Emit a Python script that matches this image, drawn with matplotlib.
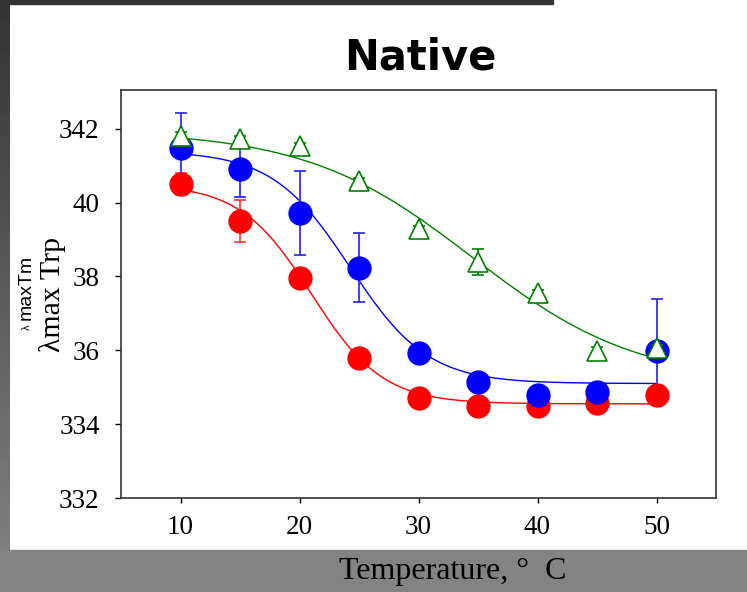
import numpy as np
import matplotlib
matplotlib.use('Agg')
import matplotlib.pyplot as plt
from matplotlib.patches import Rectangle

# temperatures (deg C)
temp = [10, 15, 20, 25, 30, 35, 40, 45, 50]

# red series (filled circles)
red_y = [340.5, 339.5, 337.95, 335.78, 334.72, 334.49, 334.5, 334.57, 334.78]
red_err = [0.3, 0.57, 0.1, 0.1, 0.1, 0.1, 0.1, 0.1, 0.1]

# blue series (filled circles)
blue_y = [341.49, 340.92, 339.72, 338.24, 335.92, 335.14, 334.78, 334.87, 335.98]
blue_err = [0.94, 0.78, 1.13, 0.93, 0.1, 0.1, 0.1, 0.1, 1.4]

# green series (open triangles)
green_y = [341.8, 341.71, 341.52, 340.58, 339.28, 338.4, 337.54, 335.99, 336.05]
green_err = [0.1, 0.1, 0.1, 0.1, 0.1, 0.35, 0.1, 0.1, 0.1]

# Boltzmann fit parameters: top, bottom, Tm, slope
red_fit = [340.5, 334.55, 21.0, 3.0]
blue_fit = [341.4, 335.1, 24.25, 3.27]
green_fit = [341.95, 335.1, 34.5, 7.0]

yticks = [332, 334, 336, 338, 340, 342]
ytick_labels = ['332', '334', '36', '38', '40', '342']
xticks = [10, 20, 30, 40, 50]


def boltzmann(t, p):
    top, bottom, tm, dx = p
    return bottom + (top - bottom) / (1 + np.exp((t - tm) / dx))


def draw():
    serif = ['Liberation Serif', 'DejaVu Serif']
    fig = plt.figure(figsize=(7.47, 5.92), dpi=100)
    fig.patch.set_facecolor('white')

    # slide background pieces
    grad_ax = fig.add_axes([0, 0, 10 / 747, 1])
    grad = np.linspace(0.2, 0.52, 256).reshape(-1, 1)
    grad_ax.imshow(grad, aspect='auto', cmap='gray', vmin=0, vmax=1)
    grad_ax.axis('off')
    fig.patches.append(Rectangle((0, 1 - 4 / 592), 553 / 747, 4 / 592,
                                 transform=fig.transFigure, color='#333333', zorder=0))
    fig.patches.append(Rectangle((0, 0), 1, 42 / 592,
                                 transform=fig.transFigure, color='#838383', zorder=0))

    ax = fig.add_axes([121 / 747, 1 - 498 / 592, 595 / 747, 408 / 592])

    tt = np.linspace(10, 50, 300)
    ax.plot(tt, boltzmann(tt, red_fit), color='red', lw=1.0, zorder=2)
    ax.plot(tt, boltzmann(tt, blue_fit), color='blue', lw=1.0, zorder=2)
    ax.plot(tt, boltzmann(tt, green_fit), color='green', lw=1.0, zorder=4)

    ax.errorbar(temp, red_y, yerr=red_err, fmt='o', color='red', ms=16.5,
                ecolor='#ff4040', elinewidth=1.3, capsize=4.3, capthick=1.3, zorder=3)
    ax.errorbar(temp, blue_y, yerr=blue_err, fmt='o', color='blue', ms=16.5,
                ecolor='#3030ff', elinewidth=1.3, capsize=4.3, capthick=1.3, zorder=3)
    ax.errorbar(temp, green_y, yerr=green_err, fmt='^', color='green', ms=15,
                mfc='white', mec='green', mew=1.2, ecolor='green',
                elinewidth=1.3, capsize=4.3, capthick=1.3, zorder=5)

    ax.set_xlim(5, 55)
    ax.set_ylim(332, 343.05)
    ax.set_xticks(xticks)
    ax.set_yticks(yticks)
    ax.set_yticklabels(ytick_labels)
    ax.tick_params(axis='y', direction='out', length=4.3, width=1, pad=11,
                   labelsize=19.5, left=True, right=False)
    ax.tick_params(axis='x', direction='out', length=3.6, width=1, pad=9,
                   labelsize=19.5, bottom=True, top=False)
    for lab in ax.get_xticklabels() + ax.get_yticklabels():
        lab.set_family(serif)
    for sp in ax.spines.values():
        sp.set_color('#333333')
        sp.set_linewidth(1.2)

    ax.set_ylabel('λmax Trp', family=serif, fontsize=21.5)
    ax.yaxis.set_label_coords(-0.092, 0.5)

    fig.text(420 / 747, 1 - 58 / 592, 'Native', fontsize=30, fontweight='bold',
             family='DejaVu Sans', ha='center', va='center')
    fig.text(453 / 747, 1 - 572 / 592, 'Temperature, °  C', fontsize=23,
             family=serif, ha='center', va='center')
    fig.text(27 / 747, 1 - 327 / 592, 'λ', fontsize=8, rotation=90,
             ha='center', va='center', family='Liberation Sans')
    fig.text(26 / 747, 1 - 287 / 592, 'maxTm', fontsize=14, rotation=90,
             ha='center', va='center', family='Liberation Sans')

    fig.savefig('out.png', dpi=100)


if __name__ == '__main__':
    draw()
